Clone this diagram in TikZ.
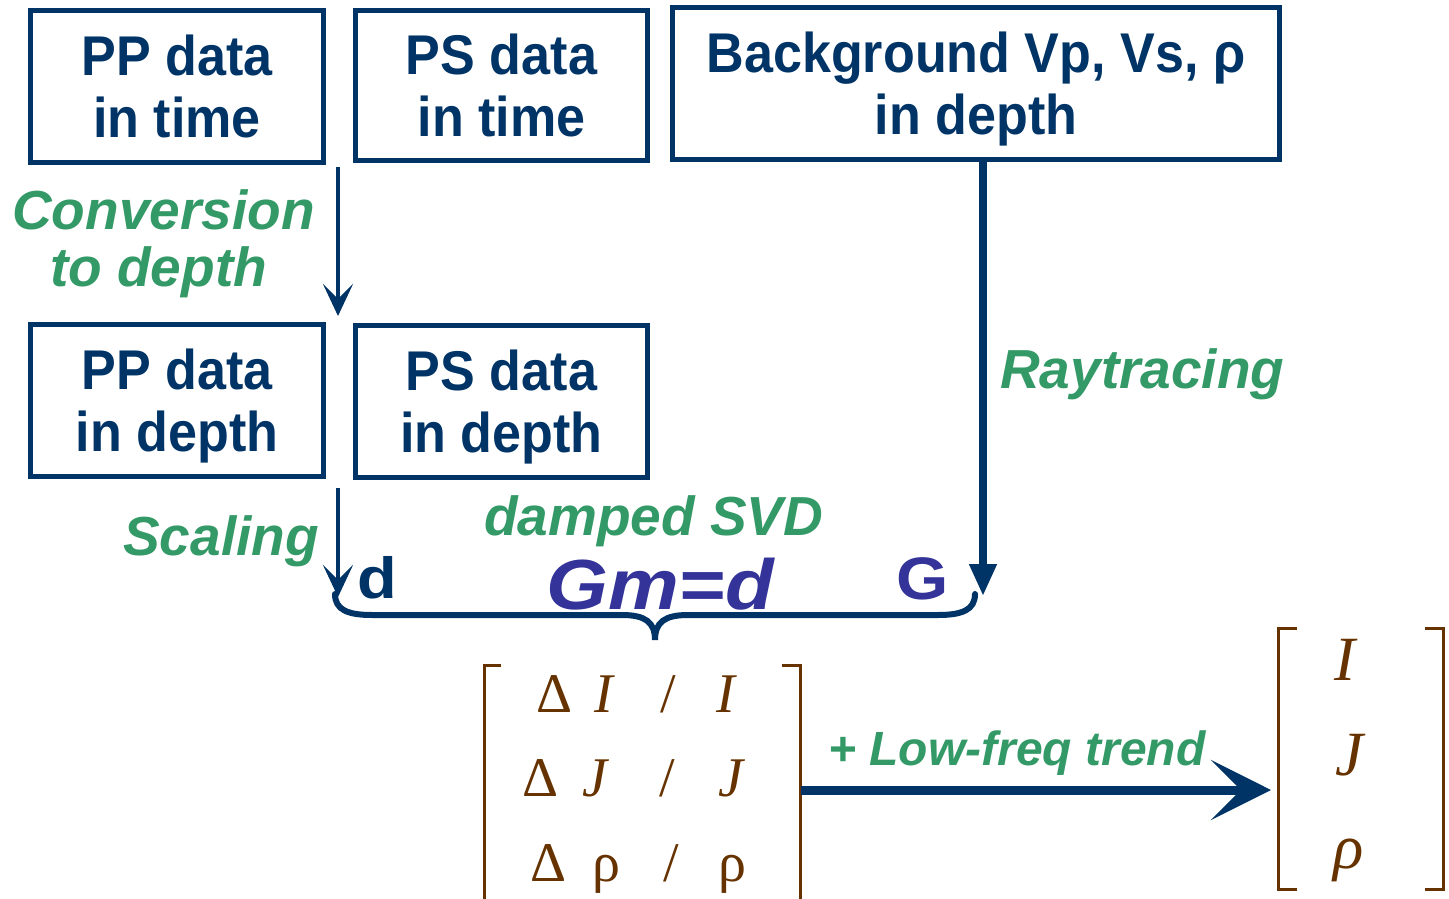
\documentclass[tikz,border=0pt]{standalone}
\usepackage{fontspec}
\setmainfont{Liberation Serif}
\newfontfamily\boxfont[FakeStretch=0.93]{Liberation Sans}
\newfontfamily\labfont{Liberation Sans}
\newfontfamily\eqfont[FakeStretch=1.12]{Liberation Sans}
\usetikzlibrary{arrows.meta}
\definecolor{navy}{HTML}{003366}
\definecolor{stepgreen}{HTML}{339966}
\definecolor{eqpurple}{HTML}{333399}
\definecolor{matbrown}{HTML}{663300}
\begin{document}
\begin{tikzpicture}[x=1pt,y=-1pt,
  box/.style={draw=navy, line width=5.5pt, inner sep=0pt, text=navy,
    font=\boxfont\bfseries\fontsize{56}{62}\selectfont, align=center},
  steplabel/.style={text=stepgreen, anchor=base west, inner sep=0pt,
    font=\labfont\bfseries\itshape\fontsize{55}{60}\selectfont},
  symb/.style={anchor=base west, inner sep=0pt,
    font=\eqfont\bfseries\fontsize{58}{60}\selectfont},
  mat/.style={text=matbrown, anchor=base west, inner sep=0pt,
    font=\fontsize{56}{60}\selectfont},
  vec/.style={mat, font=\fontsize{63}{66}\selectfont},
  bracket/.style={draw=matbrown, line width=3pt},
  thinarrow/.style={draw=navy, line width=4.5pt,
    -{Stealth[length=32pt,width=30pt,inset=15pt]}},
  thickarrow/.style={draw=navy, line width=7.5pt,
    -{Triangle[length=32pt,width=26pt]}},
  bigarrow/.style={draw=navy, line width=9pt,
    -{Stealth[length=60pt,width=60pt,inset=30pt]}},
]
\useasboundingbox (0,0) rectangle (1449,899);

% input boxes
\node[box, minimum width=293pt, minimum height=152pt] (pptime) at (177,86.5) {PP data\\in time};
\node[box, minimum width=292pt, minimum height=150pt] (pstime) at (501.5,85.5) {PS data\\in time};
\node[box, minimum width=607pt, minimum height=152pt] (bg) at (976,83.5) {Background Vp, Vs, ρ\\\smash{in depth}};
\node[box, minimum width=293pt, minimum height=152pt] (ppdepth) at (177,400.5) {PP data\\\smash{in depth}};
\node[box, minimum width=292pt, minimum height=152pt] (psdepth) at (501.5,401.5) {PS data\\\smash{in depth}};

% step labels
\node[steplabel] (conv1) at (12,229) {Conversion};
\node[steplabel] (conv2) at (50,286) {to depth};
\node[steplabel] (scal) at (123,555) {Scaling};
\node[steplabel] (ray) at (1000,388) {Raytracing};
\node[steplabel] (svd) at (484,535) {damped SVD};
\node[steplabel, font=\labfont\bfseries\itshape\fontsize{48}{52}\selectfont] (trend) at (828,765) {+ Low-freq trend};

% equation symbols
\node[symb, text=navy] (dsym) at (357,598) {d};
\node[symb, text=eqpurple, font=\eqfont\bfseries\fontsize{60}{62}\selectfont] (gsym) at (896,599) {G};
\node[symb, text=eqpurple, font=\eqfont\bfseries\itshape\fontsize{71}{72}\selectfont] (eq) at (546,609) {Gm=d};

% arrows
\coordinate (convA) at (338,167);
\coordinate (convB) at (338,316);
\coordinate (scalA) at (338,488);
\coordinate (scalB) at (338,597);
\coordinate (rayA) at (983,160);
\coordinate (rayB) at (983,596);
\draw[thinarrow] (convA) -- (convB);
\draw[thinarrow] (scalA) -- (scalB);
\draw[thickarrow] (rayA) -- (rayB);

% under-brace
\draw[navy, line width=6pt, line cap=round]
  (335,594) .. controls (335,610) and (348,615) .. (372,615) -- (622,615)
  .. controls (645,615) and (655,622) .. (655,640)
  .. controls (655,622) and (665,615) .. (688,615) -- (938,615)
  .. controls (962,615) and (975,610) .. (975,594);

% relative-change vector
\draw[bracket] (501,665) -- (484,665) -- (484,905);
\draw[bracket] (782,665) -- (800,665) -- (800,905);
\node[mat] (m11) at (536,712) {Δ};
\node[mat] (m12) at (594,712) {\textit{I}};
\node[mat] (m13) at (660,712) {/};
\node[mat] (m14) at (716,712) {\textit{I}};
\node[mat] (m21) at (522,796) {Δ};
\node[mat] (m22) at (582,796) {\textit{J}};
\node[mat] (m23) at (659,796) {/};
\node[mat] (m24) at (718,796) {\textit{J}};
\node[mat] (m31) at (530,881) {Δ};
\node[mat] (m32) at (592,881) {ρ};
\node[mat] (m33) at (663,881) {/};
\node[mat] (m34) at (718,881) {ρ};
\coordinate (vecL) at (801,790);

% absolute vector
\draw[bracket] (1297,628) -- (1278,628) -- (1278,889) -- (1297,889);
\draw[bracket] (1425,628) -- (1443,628) -- (1443,889) -- (1425,889);
\node[vec] (v1) at (1334,680) {\textit{I}};
\node[vec] (v2) at (1335,775) {\textit{J}};
\node[vec] (v3) at (1333,868) {\textit{ρ}};
\coordinate (vecR) at (1271,790);

\draw[bigarrow] (vecL) -- (vecR);
\end{tikzpicture}
\end{document}
